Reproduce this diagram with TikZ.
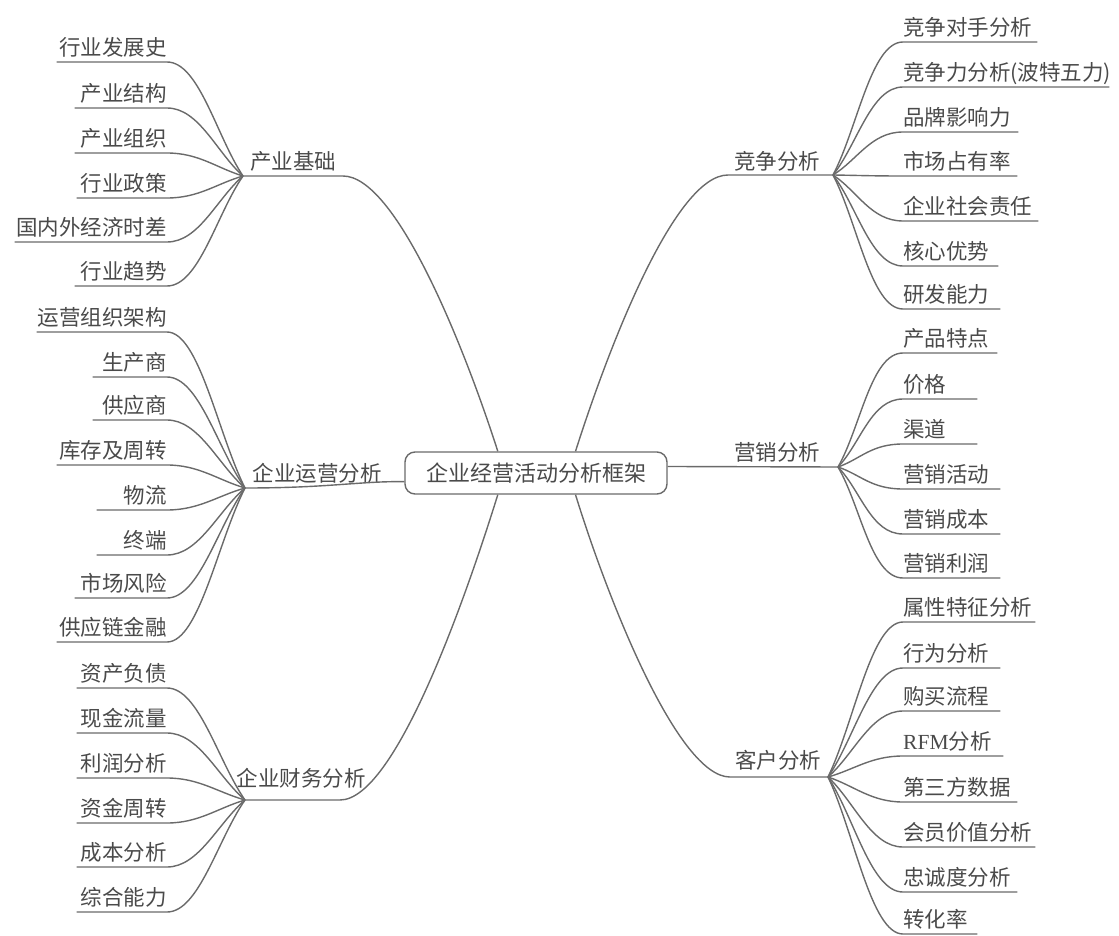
\documentclass[tikz,border=0pt]{standalone}
\usepackage{fontspec}
\setmainfont{Noto Sans CJK SC}
\newfontfamily\latinserif{Liberation Serif}
\usetikzlibrary{calc}
\definecolor{txt}{HTML}{4A4A4A}
\definecolor{ln}{HTML}{6A6A6A}
\begin{document}
\begin{tikzpicture}[x=1pt,y=-1pt,
  every node/.style={text=txt,font=\fontsize{21.5}{24}\selectfont},
  leafL/.style={anchor=south east,inner sep=0pt,align=right,text depth=6pt,text height=17pt},
  leafR/.style={anchor=south west,inner sep=0pt,align=left,text depth=6pt,text height=17pt},
  branch/.style={anchor=base,inner sep=0pt},
  conn/.style={draw=ln,line width=1.4pt},
  rootbox/.style={draw=ln,line width=1.4pt,rounded corners=10pt,minimum width=262pt,minimum height=42pt,inner sep=0pt,font=\fontsize{22}{26}\selectfont}]
\useasboundingbox (0,0) rectangle (1119,936);

% root
\node[rootbox] (box) at (536,473) {企业经营活动分析框架};

% hubs and turning points
\coordinate (hA) at (243,176);
\coordinate (hB) at (245,488);
\coordinate (hC) at (245,800);
\coordinate (hD) at (833,175);
\coordinate (hE) at (838,467);
\coordinate (hF) at (828,777);
\coordinate (tA) at (343,176);
\coordinate (tC) at (340,800);
\coordinate (tD) at (728,175);
\coordinate (tF) at (730,777);

% branch labels
\node[branch] (bA) at (293,170) {产业基础};
\node[branch] (bB) at (317,481) {企业运营分析};
\node[branch] (bC) at (301,786) {企业财务分析};
\node[branch] (bD) at (777,170) {竞争分析};
\node[branch] (bE) at (777,460) {营销分析};
\node[branch] (bF) at (778,768) {客户分析};

% main connectors
\draw[conn] (hA) -- (tA) .. controls (395,176) and (462,340) .. ($(box.north west)!0.355!(box.north east)$);
\draw[conn] (hD) -- (tD) .. controls (676,175) and (611,340) .. ($(box.north west)!0.65!(box.north east)$);
\draw[conn] (hC) -- (tC) .. controls (395,800) and (465,600) .. ($(box.south west)!0.355!(box.south east)$);
\draw[conn] (hF) -- (tF) .. controls (678,777) and (608,600) .. ($(box.south west)!0.65!(box.south east)$);
\draw[conn] (hB) .. controls (330,488) and (360,481) .. ($(box.south west)!0.3!(box.north west)$);
\draw[conn] ($(box.north east)!0.35!(box.south east)$) -- (hE);

% left leaves
\foreach \n/\t/\y/\w/\h in {
  a1/行业发展史/62/110/hA, a2/产业结构/108/92/hA, a3/产业组织/153/92/hA,
  a4/行业政策/198/90/hA, a5/国内外经济时差/242/152/hA, a6/行业趋势/286/92/hA,
  b1/运营组织架构/332/130/hB, b2/生产商/377/74/hB, b3/供应商/420/74/hB,
  b4/库存及周转/465/110/hB, b5/物流/510/70/hB, b6/终端/555/70/hB,
  b7/市场风险/598/92/hB, b8/供应链金融/642/110/hB,
  c1/资产负债/688/90/hC, c2/现金流量/733/90/hC, c3/利润分析/778/90/hC,
  c4/资金周转/823/90/hC, c5/成本分析/867/90/hC, c6/综合能力/912/90/hC}{
  \node[leafL,text width=\w pt] (\n) at (167,\y) {\t};
  \draw[conn] (\n.south west) -- (\n.south east)
    .. controls ($(\n.south east)+(32,0)$) and ($(\h)!0.35!(\n.south east)$) .. (\h);
}

% right leaves
\foreach \n/\t/\y/\w/\h in {
  d1/竞争对手分析/42/134/hD, d2/竞争力分析(波特五力)/87/206/hD, d3/品牌影响力/132/115/hD,
  d4/市场占有率/176/114/hD, d5/企业社会责任/221/135/hD, d6/核心优势/266/95/hD,
  d7/研发能力/309/97/hD,
  e1/产品特点/353/94/hE, e2/价格/399/74/hE, e3/渠道/444/74/hE,
  e4/营销活动/489/97/hE, e5/营销成本/534/97/hE, e6/营销利润/578/97/hE,
  f1/属性特征分析/622/132/hF, f2/行为分析/668/97/hF, f3/购买流程/711/97/hF,
  f4/{\latinserif RFM}分析/756/100/hF, f5/第三方数据/802/114/hF, f6/会员价值分析/847/132/hF,
  f7/忠诚度分析/892/114/hF, f8/转化率/934/74/hF}{
  \node[leafR,text width=\w pt] (\n) at (903,\y) {\t};
  \draw[conn] (\h) .. controls ($(\h)!0.35!(\n.south west)$) and ($(\n.south west)+(-32,0)$)
    .. (\n.south west) -- (\n.south east);
}
\end{tikzpicture}
\end{document}
